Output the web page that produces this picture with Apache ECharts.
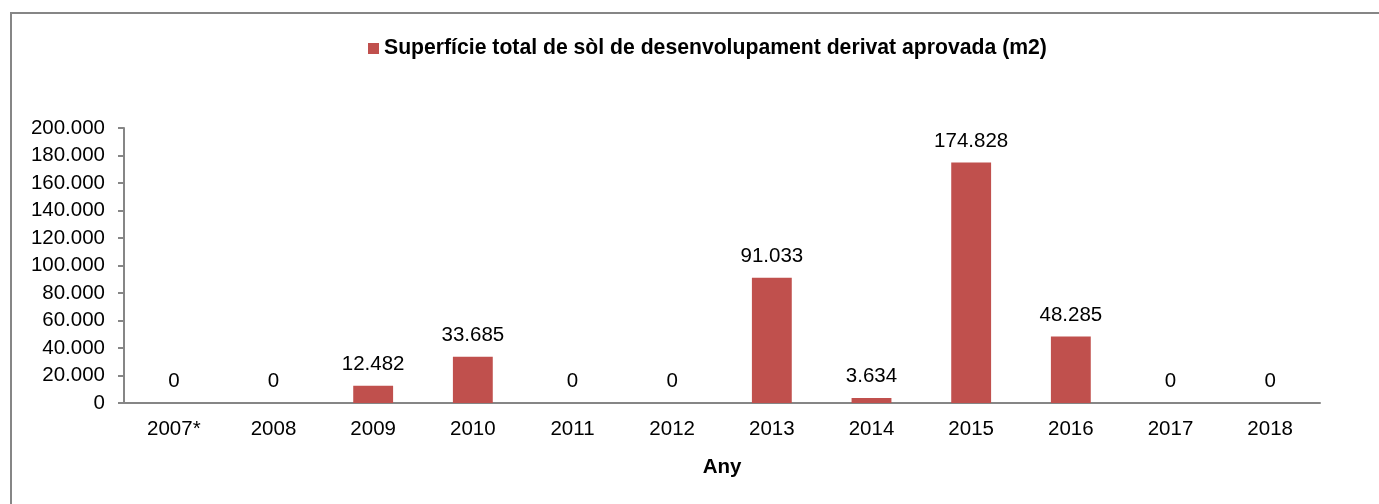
<!DOCTYPE html>
<html>
<head>
<meta charset="utf-8">
<script src="https://cdn.jsdelivr.net/npm/echarts@6/dist/echarts.min.js"></script>
<style>
html,body{margin:0;padding:0;background:#fff;}
#chart{width:1379px;height:504px;}
</style>
</head>
<body>
<div id="chart"></div>
<script>
const categories = ['2007*','2008','2009','2010','2011','2012','2013','2014','2015','2016','2017','2018'];
const seriesName = 'Superfície total de sòl de desenvolupament derivat aprovada (m2)';
const values = [0, 0, 12482, 33685, 0, 0, 91033, 3634, 174828, 48285, 0, 0];
const yMin = 0, yMax = 200000, yInterval = 20000;
const xAxisName = 'Any';

function fmt(v){
  return String(Math.round(v)).replace(/\B(?=(\d{3})+(?!\d))/g, '.');
}

const chart = echarts.init(document.getElementById('chart'), null, {renderer:'canvas'});
const font = 'Liberation Sans, Arial, sans-serif';
chart.setOption({
  animation:false,
  textStyle:{fontFamily:font},
  graphic:[{
    type:'rect', left:10, top:12, z:-1,
    shape:{width:1420, height:560},
    style:{fill:'#fff', stroke:'#868686', lineWidth:2}
  }],
  legend:{
    top:33, left:363,
    itemWidth:11, itemHeight:11, icon:'rect', itemGap:5,
    textStyle:{fontFamily:font, fontSize:21.2, fontWeight:'bold', color:'#000'},
    data:[seriesName]
  },
  grid:{left:124, right:59, top:128, bottom:101, containLabel:false},
  xAxis:{
    type:'category', data:categories,
    axisLine:{lineStyle:{color:'#868686', width:2}},
    axisTick:{show:false},
    axisLabel:{color:'#000', fontSize:20.5, margin:16, fontFamily:font},
    name:xAxisName, nameLocation:'middle', nameGap:54,
    nameTextStyle:{color:'#000', fontSize:20.5, fontWeight:'bold', fontFamily:font}
  },
  yAxis:{
    type:'value', min:yMin, max:yMax, interval:yInterval,
    axisLine:{show:true, lineStyle:{color:'#868686', width:2}},
    axisTick:{show:true, inside:false, length:6, lineStyle:{color:'#868686', width:2}},
    splitLine:{show:false},
    axisLabel:{color:'#000', fontSize:20.5, margin:19, fontFamily:font, formatter:fmt}
  },
  series:[{
    name:seriesName, type:'bar', data:values, barWidth:'40%',
    itemStyle:{color:'#C0504D'},
    label:{show:true, position:'top', distance:11, color:'#000', fontSize:20.5, fontFamily:font, formatter:p=>fmt(p.value)}
  }]
});
</script>
</body>
</html>
